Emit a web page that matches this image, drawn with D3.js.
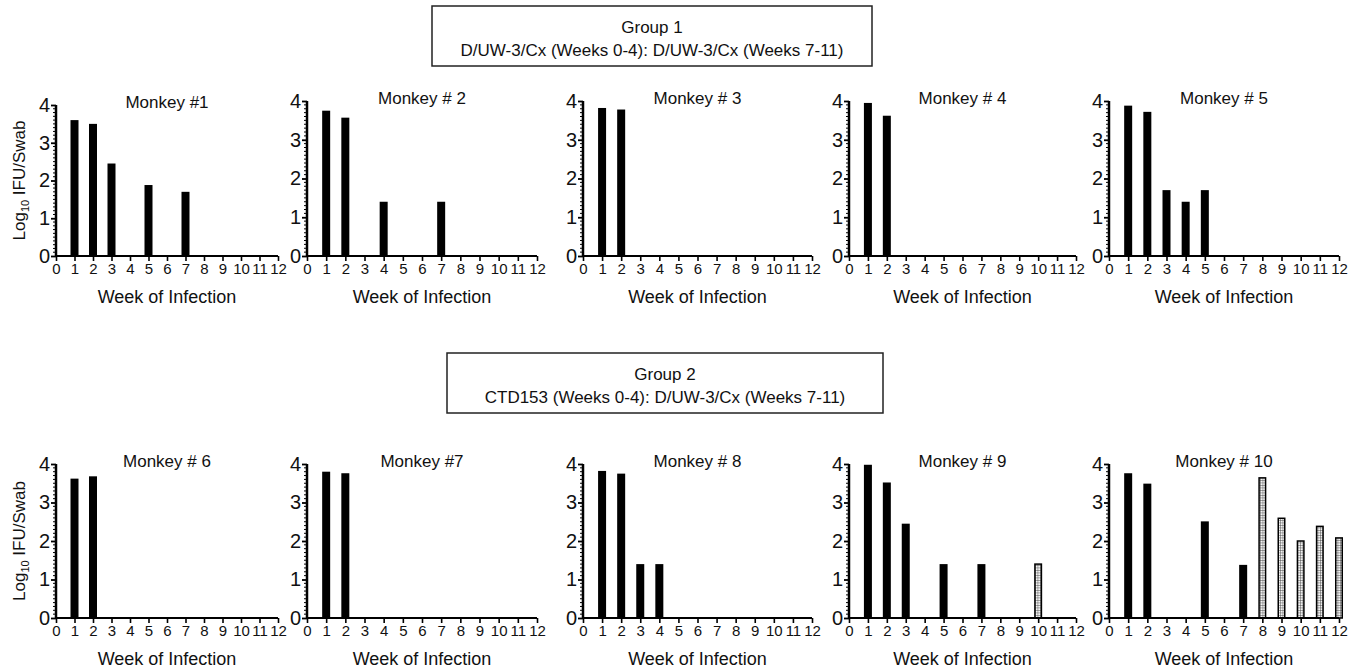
<!DOCTYPE html>
<html>
<head>
<meta charset="utf-8">
<script src="https://cdn.jsdelivr.net/npm/d3@7"></script>
<style>
  body { margin: 0; background: #fff; }
  text { font-family: "Liberation Sans", Arial, sans-serif; fill: #111; }
</style>
</head>
<body>
<script>
// data (log10 IFU/swab per week, null = nothing shown)
var weekTicks = [0, 1, 2, 3, 4, 5, 6, 7, 8, 9, 10, 11, 12];
var yTicks = [0, 1, 2, 3, 4];
var monkeyNames = ["Monkey #1", "Monkey # 2", "Monkey # 3", "Monkey # 4", "Monkey # 5",
                   "Monkey # 6", "Monkey #7", "Monkey # 8", "Monkey # 9", "Monkey # 10"];
var groupTitles = ["Group 1", "Group 2"];
var groupSubtitles = ["D/UW-3/Cx (Weeks 0-4): D/UW-3/Cx (Weeks 7-11)",
                      "CTD153 (Weeks 0-4): D/UW-3/Cx (Weeks 7-11)"];

// solid bars
var m1 = [null, 3.6, 3.5, 2.45, null, 1.88, null, 1.7, null, null, null, null, null];
var m2 = [null, 3.75, 3.57, null, 1.4, null, null, 1.4, null, null, null, null, null];
var m3 = [null, 3.82, 3.78, null, null, null, null, null, null, null, null, null, null];
var m4 = [null, 3.95, 3.62, null, null, null, null, null, null, null, null, null, null];
var m5 = [null, 3.88, 3.72, 1.7, 1.4, 1.7, null, null, null, null, null, null, null];
var m6 = [null, 3.62, 3.68, null, null, null, null, null, null, null, null, null, null];
var m7 = [null, 3.8, 3.76, null, null, null, null, null, null, null, null, null, null];
var m8 = [null, 3.82, 3.75, 1.4, 1.4, null, null, null, null, null, null, null, null];
var m9 = [null, 3.98, 3.52, 2.45, null, 1.4, null, 1.4, null, null, null, null, null];
var m10 = [null, 3.76, 3.49, null, null, 2.51, null, 1.38, null, null, null, null, null];
// hatched bars (second infection)
var m9Hatched = [null, null, null, null, null, null, null, null, null, null, 1.4, null, null];
var m10Hatched = [null, null, null, null, null, null, null, null, 3.64, 2.59, 2.0, 2.38, 2.08];

var solidSeries = [m1, m2, m3, m4, m5, m6, m7, m8, m9, m10];
var hatchedSeries = [null, null, null, null, null, null, null, null, m9Hatched, m10Hatched];

// layout
var colLeft = [56, 307, 583, 849, 1109];
var colRight = [278, 537, 812, 1076, 1339];
var rowTop = [101, 464];
var rowBottom = [256, 618];

var svg = d3.select("body").append("svg")
  .attr("width", 1362)
  .attr("height", 670);

var defs = svg.append("defs");
var pat = defs.append("pattern")
  .attr("id", "grid")
  .attr("patternUnits", "userSpaceOnUse")
  .attr("width", 2.5)
  .attr("height", 2.5);
pat.append("rect").attr("width", 2.5).attr("height", 2.5).attr("fill", "#f4f4f4");
pat.append("path").attr("d", "M0,0H2.5M0,0V2.5")
  .attr("stroke", "#333").attr("stroke-width", 0.8);

// group boxes
var boxes = [{x: 432, y: 6, w: 440, h: 60}, {x: 447, y: 353, w: 436, h: 60}];
boxes.forEach(function(b, i) {
  svg.append("rect")
    .attr("x", b.x).attr("y", b.y).attr("width", b.w).attr("height", b.h)
    .attr("fill", "none").attr("stroke", "#222").attr("stroke-width", 1.5);
  svg.append("text")
    .attr("x", b.x + b.w / 2).attr("y", b.y + 27)
    .attr("text-anchor", "middle").style("font-size", "17px")
    .text(groupTitles[i]);
  svg.append("text")
    .attr("x", b.x + b.w / 2).attr("y", b.y + 50)
    .attr("text-anchor", "middle").style("font-size", "17px")
    .text(groupSubtitles[i]);
});

function drawPanel(idx) {
  var row = Math.floor(idx / 5), col = idx % 5;
  var top = rowTop[row] + (idx === 0 ? 4 : 0);
  var x = d3.scaleLinear().domain([0, 12]).range([colLeft[col], colRight[col]]);
  var y = d3.scaleLinear().domain([0, 4]).range([rowBottom[row], top]);
  var g = svg.append("g");
  var bw = 8;

  var solid = solidSeries[idx].map(function(v, w) { return {w: w, v: v}; })
    .filter(function(d) { return d.v != null; });
  g.selectAll("rect.solid").data(solid).enter().append("rect")
    .attr("class", "solid")
    .attr("x", function(d) { return x(d.w) - bw / 2; })
    .attr("y", function(d) { return y(d.v); })
    .attr("width", bw)
    .attr("height", function(d) { return y(0) - y(d.v); })
    .attr("fill", "#000");

  if (hatchedSeries[idx]) {
    var hatched = hatchedSeries[idx].map(function(v, w) { return {w: w, v: v}; })
      .filter(function(d) { return d.v != null; });
    g.selectAll("rect.hatch").data(hatched).enter().append("rect")
      .attr("class", "hatch")
      .attr("x", function(d) { return x(d.w) - bw / 2 + 0.75; })
      .attr("y", function(d) { return y(d.v); })
      .attr("width", bw - 1.5)
      .attr("height", function(d) { return y(0) - y(d.v); })
      .attr("fill", "url(#grid)")
      .attr("stroke", "#000")
      .attr("stroke-width", 1.5);
  }

  // x axis
  var xAxis = d3.axisBottom(x).tickValues(weekTicks).tickSize(5).tickPadding(2)
    .tickFormat(d3.format("d"));
  var xg = g.append("g").attr("transform", "translate(0," + y(0) + ")").call(xAxis);
  xg.select(".domain").attr("stroke", "#000").attr("stroke-width", 2)
    .attr("d", "M" + x(0) + ",0H" + x(12));
  xg.selectAll(".tick line").attr("stroke", "#000").attr("stroke-width", 1.6);
  xg.selectAll(".tick text").style("font-size", "15px").attr("fill", "#111")
    .attr("font-family", "Liberation Sans, Arial, sans-serif");

  // y axis, minor ticks every 0.1
  var minor = d3.range(0, 40).map(function(i) { return i / 10; })
    .filter(function(v) { return Math.abs(v - Math.round(v)) > 1e-6; });
  g.selectAll("line.minor").data(minor).enter().append("line")
    .attr("x1", x(0) - 3).attr("x2", x(0))
    .attr("y1", function(d) { return y(d); })
    .attr("y2", function(d) { return y(d); })
    .attr("stroke", "#000").attr("stroke-width", 1);
  var yAxis = d3.axisLeft(y).tickValues(yTicks).tickSize(5).tickPadding(1)
    .tickFormat(d3.format("d"));
  var yg = g.append("g").attr("transform", "translate(" + x(0) + ",0)").call(yAxis);
  yg.select(".domain").attr("stroke", "#000").attr("stroke-width", 2.5)
    .attr("d", "M0," + y(0) + "V" + y(4));
  yg.selectAll(".tick line").attr("stroke", "#000").attr("stroke-width", 1.8);
  yg.selectAll(".tick text").style("font-size", "20px").attr("fill", "#111")
    .attr("font-family", "Liberation Sans, Arial, sans-serif");

  // titles
  var cx = (x(0) + x(12)) / 2;
  g.append("text")
    .attr("x", cx).attr("y", top + 3)
    .attr("text-anchor", "middle").style("font-size", "17px")
    .text(monkeyNames[idx]);
  g.append("text")
    .attr("x", cx).attr("y", y(0) + 47)
    .attr("text-anchor", "middle").style("font-size", "18px")
    .text("Week of Infection");

  if (col === 0) {
    var yl = g.append("text")
      .attr("transform", "translate(25," + ((y(0) + y(4)) / 2) + ") rotate(-90)")
      .attr("text-anchor", "middle").style("font-size", "17px");
    yl.append("tspan").text("Log");
    yl.append("tspan").attr("dy", 4).style("font-size", "11px").text("10");
    yl.append("tspan").attr("dy", -4).text(" IFU/Swab");
  }
}

for (var i = 0; i < 10; i++) drawPanel(i);
</script>
</body>
</html>
